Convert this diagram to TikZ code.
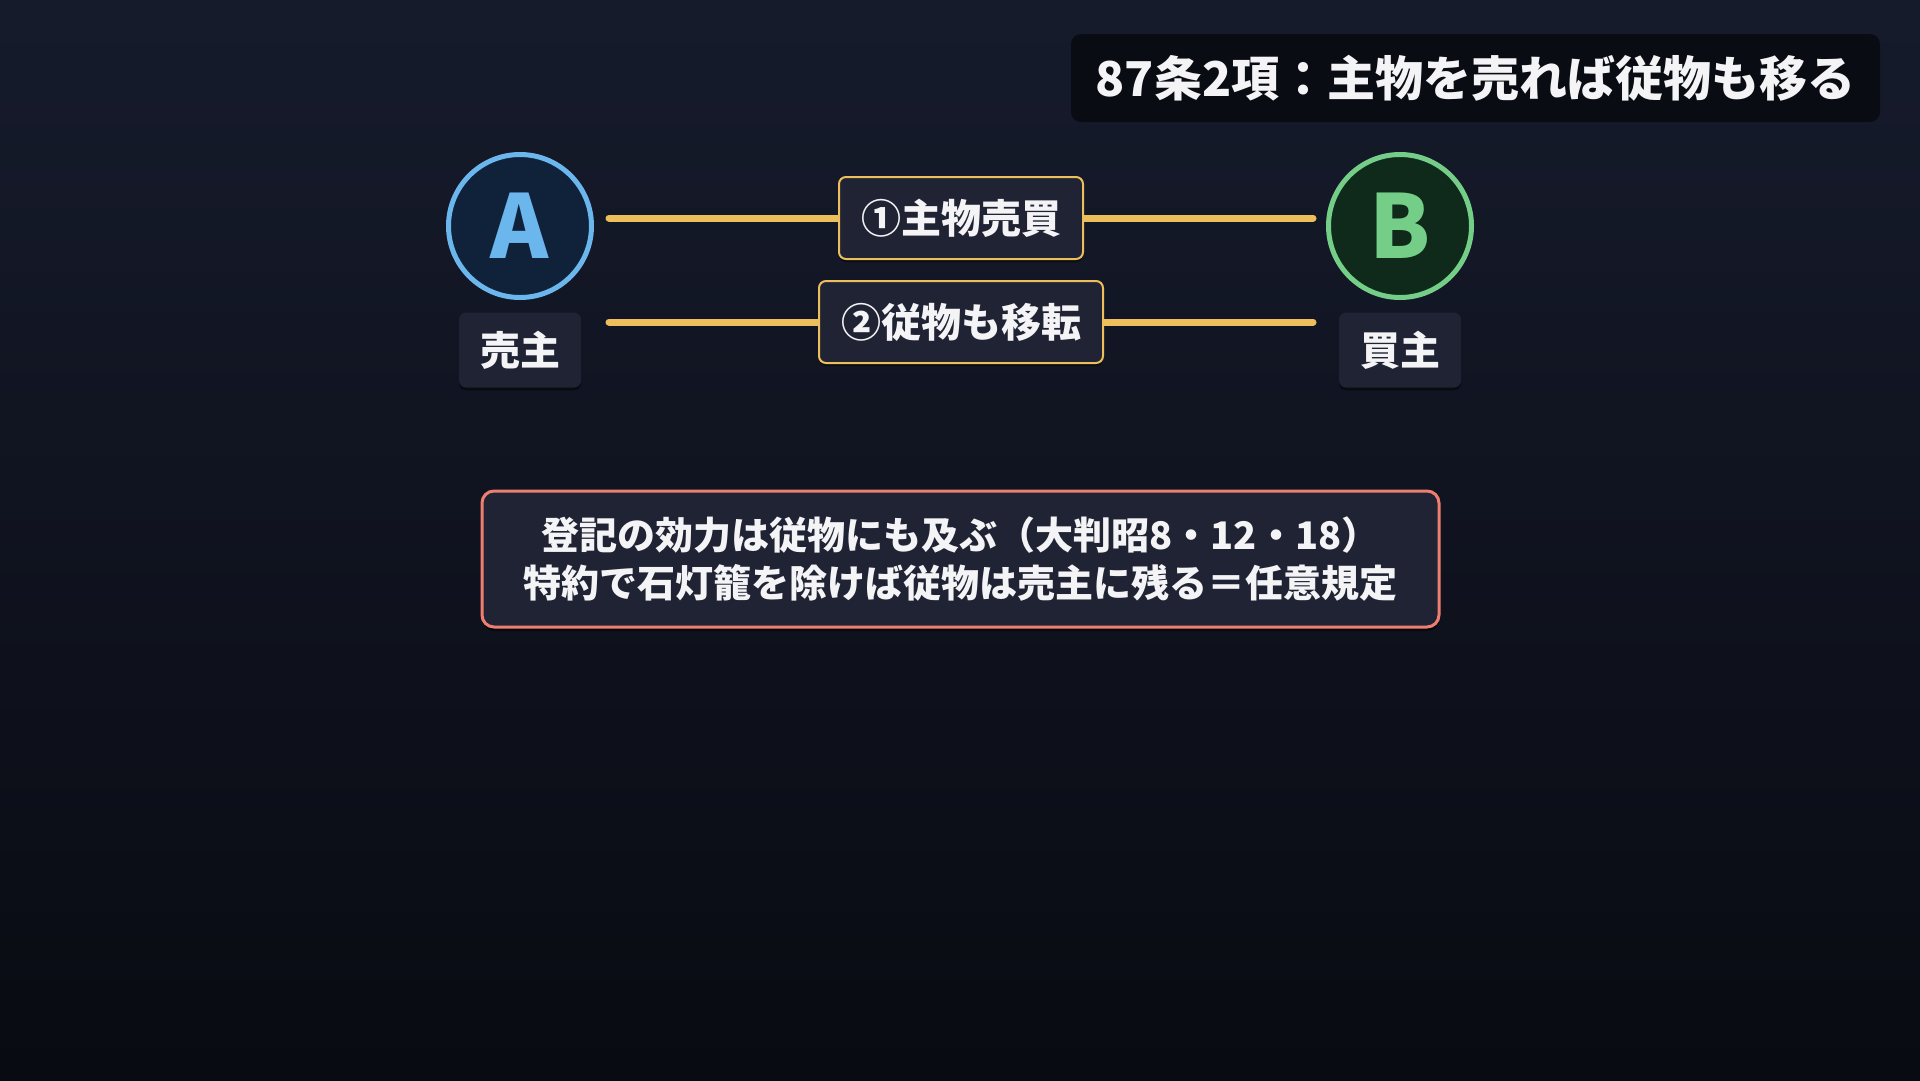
\documentclass[tikz,border=0pt]{standalone}
\usepackage{fontspec}
\setmainfont{Noto Sans CJK JP}
\usetikzlibrary{shadows}
\definecolor{bgtop}{HTML}{161B2C}
\definecolor{bgbot}{HTML}{090B12}
\definecolor{gold}{HTML}{EDBE5C}
\definecolor{boxfill}{HTML}{1F2333}
\definecolor{ablue}{HTML}{6CB6EE}
\definecolor{afill}{HTML}{10223A}
\definecolor{bgreen}{HTML}{74CE88}
\definecolor{bfill}{HTML}{0F2A1A}
\definecolor{salmon}{HTML}{EE7F70}
\definecolor{titlefill}{HTML}{0A0C14}
\definecolor{txt}{HTML}{F4F4F6}
\begin{document}
\begin{tikzpicture}[x=1pt,y=-1pt,
  softshadow/.style={drop shadow={fill=black, opacity=0.45, shadow xshift=0pt, shadow yshift=-3pt}},
  party/.style={circle, line width=5pt, minimum size=143pt, inner sep=0pt,
    font=\fontsize{88}{88}\selectfont},
  rolebox/.style={rounded corners=7pt, fill=boxfill, minimum width=122pt,
    minimum height=75pt, text=txt, inner sep=0pt, font=\fontsize{40}{48}\selectfont\bfseries,
    softshadow},
  deallabel/.style={rounded corners=7pt, fill=boxfill, draw=gold, line width=2pt,
    minimum height=82pt, inner xsep=22pt, text=txt, font=\fontsize{40}{48}\selectfont\bfseries,
    softshadow},
  dealline/.style={draw=gold, line width=7pt, line cap=round},
]
\useasboundingbox (0,0) rectangle (1920,1080);
\shade[top color=bgtop, bottom color=bgbot] (0,0) rectangle (1920,1080);

% title
\node[fill=titlefill, rounded corners=10pt, minimum width=809pt, minimum height=88pt,
  inner sep=0pt, text=txt, font=\fontsize{48}{56}\selectfont\bfseries] (title) at (1475.5,78)
  {87条2項：主物を売れば従物も移る};

% parties
\node[party, draw=ablue, fill=afill, text=ablue] (A) at (520,226) {\textbf{A}};
\node[party, draw=bgreen, fill=bfill, text=bgreen] (B) at (1400,226) {\textbf{B}};
\node[rolebox] (sa) at (520,350) {売主};
\node[rolebox] (sb) at (1400,350) {買主};

% transactions
\draw[dealline] ([xshift=15pt,yshift=8pt]A.east) -- ([xshift=-13pt,yshift=8pt]B.west)
  node[midway, deallabel] (d1) {①主物売買};
\draw[dealline] ([xshift=15pt,yshift=-96pt]A.east) -- ([xshift=-13pt,yshift=-96pt]B.west)
  node[midway, deallabel] (d2) {②従物も移転};

% note
\node[draw=salmon, line width=3pt, fill=boxfill, rounded corners=12pt,
  minimum width=957pt, minimum height=136pt, align=center, text=txt,
  font=\fontsize{38}{48}\selectfont\bfseries,
  drop shadow={fill=black, opacity=0.45, shadow xshift=0pt, shadow yshift=-4pt}] (note) at (960.5,559)
  {登記の効力は従物にも及ぶ（大判昭8・12・18）\\特約で石灯籠を除けば従物は売主に残る＝任意規定};
\end{tikzpicture}
\end{document}
